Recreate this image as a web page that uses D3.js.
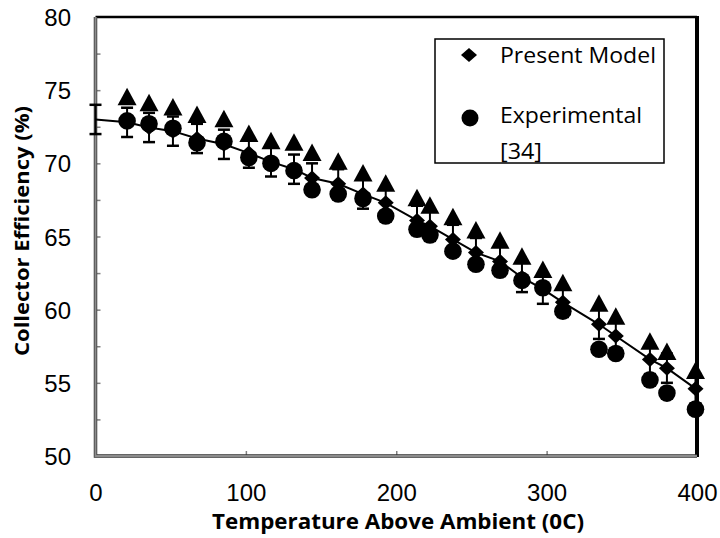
<!DOCTYPE html>
<html>
<head>
<meta charset="utf-8">
<script src="https://cdn.jsdelivr.net/npm/d3@7"></script>
<style>
  html, body { margin: 0; padding: 0; background: #fff; }
  svg { display: block; }
</style>
</head>
<body>
<svg id="chart" width="720" height="538"></svg>
<script>
// ---- data ----
const temps = [21, 35.6, 51.5, 67.5, 85.4, 102, 116.7, 132, 144, 161.4, 177.9, 193, 213.8, 222.4, 237.7, 253, 269, 283.6, 297.5, 310.8, 334.8, 346, 368.7, 380, 399];
const modelTemps = [0].concat(temps);
const modelEff = [73.0, 72.8, 72.45, 72.2, 71.7, 71.3, 70.7, 70.1, 69.6, 69.0, 68.6, 67.9, 67.3, 66.1, 65.7, 64.8, 63.9, 63.3, 62.2, 61.4, 60.5, 59.0, 58.2, 56.6, 56.0, 54.6];
const modelErr = 1.0;
const expEff = [72.9, 72.7, 72.4, 71.4, 71.5, 70.4, 70.0, 69.5, 68.2, 67.9, 67.6, 66.4, 65.5, 65.1, 64.0, 63.1, 62.7, 62.0, 61.5, 59.9, 57.3, 57.0, 55.2, 54.3, 53.2];
const upperEff = [74.5, 74.1, 73.8, 73.3, 73.0, 72.0, 71.5, 71.4, 70.7, 70.1, 69.3, 68.6, 67.6, 67.1, 66.3, 65.4, 64.7, 63.6, 62.7, 61.8, 60.4, 59.5, 57.8, 57.1, 55.8];
const xTicks = [0, 100, 200, 300, 400];
const yTicks = [50, 55, 60, 65, 70, 75, 80];
const yMinorTicks = [52.5, 55, 57.5, 60, 62.5, 65, 67.5, 70, 72.5, 75, 77.5];
const xMinorTicks = [100, 200, 300];
const legendLabels = ["Present Model", "Experimental", "[34]"];
const xTitle = "Temperature Above Ambient (0C)";
const yTitle = "Collector Efficiency (%)";

// ---- layout ----
const L = 95.5, R = 697, T = 17, B = 456;
const svg = d3.select("#chart");
const x = d3.scaleLinear().domain([0, 400]).range([L, R]);
const y = d3.scaleLinear().domain([50, 80]).range([B, T]);

// frame: top and right black
svg.append("line").attr("x1", L).attr("x2", R).attr("y1", T).attr("y2", T)
  .attr("stroke", "#000").attr("stroke-width", 2.5);
svg.append("line").attr("x1", R).attr("x2", R).attr("y1", T - 1).attr("y2", B + 1)
  .attr("stroke", "#000").attr("stroke-width", 4);

// minor ticks (inside)
svg.append("g").attr("transform", `translate(${L},0)`)
  .call(d3.axisLeft(y).tickValues(yMinorTicks).tickSize(-5).tickFormat(""))
  .call(g => g.select(".domain").remove())
  .call(g => g.selectAll("line").attr("stroke", "#808080").attr("stroke-width", 1.5));
svg.append("g").attr("transform", `translate(0,${B})`)
  .call(d3.axisBottom(x).tickValues(xMinorTicks).tickSize(-5).tickFormat(""))
  .call(g => g.select(".domain").remove())
  .call(g => g.selectAll("line").attr("stroke", "#808080").attr("stroke-width", 1.5));

// left & bottom axis lines (gray with dark edge)
svg.append("path").attr("d", `M${L},${T}V${B}H${R}`).attr("fill", "none")
  .attr("stroke", "#333").attr("stroke-width", 3.5);
svg.append("path").attr("d", `M${L},${T}V${B}H${R}`).attr("fill", "none")
  .attr("stroke", "#8c8c8c").attr("stroke-width", 2);

// tick labels
const yAx = svg.append("g").attr("transform", `translate(${L},0)`)
  .call(d3.axisLeft(y).tickValues(yTicks).tickSize(0).tickPadding(24.5).tickFormat(d3.format("d")));
yAx.select(".domain").remove();
yAx.selectAll("text").attr("font-family", "Liberation Sans, Arial, sans-serif")
  .attr("font-size", 24).attr("fill", "#000").attr("dy", "0.36em");

const xAx = svg.append("g").attr("transform", `translate(0,${B})`)
  .call(d3.axisBottom(x).tickValues(xTicks).tickSize(0).tickPadding(28).tickFormat(d3.format("d")));
xAx.select(".domain").remove();
xAx.selectAll("text").attr("font-family", "Liberation Sans, Arial, sans-serif")
  .attr("font-size", 24).attr("fill", "#000");

// axis titles
svg.append("text").attr("x", 398).attr("y", 529).attr("text-anchor", "middle")
  .attr("font-family", "Open Sans, sans-serif").attr("font-weight", "bold").attr("font-size", 21)
  .attr("textLength", 372).attr("lengthAdjust", "spacingAndGlyphs").text(xTitle);
svg.append("text").attr("transform", "translate(29,231) rotate(-90)").attr("text-anchor", "middle")
  .attr("font-family", "Open Sans, sans-serif").attr("font-weight", "bold").attr("font-size", 20)
  .attr("textLength", 250).attr("lengthAdjust", "spacingAndGlyphs").text(yTitle);

// model line
const lineGen = d3.line().x((d, i) => x(modelTemps[i])).y(d => y(d));
svg.append("path").datum(modelEff).attr("d", lineGen).attr("fill", "none")
  .attr("stroke", "#000").attr("stroke-width", 2);

// error bars on model
const eb = svg.append("g").attr("stroke", "#000");
modelEff.forEach((v, i) => {
  const cx = x(modelTemps[i]);
  eb.append("line").attr("x1", cx).attr("x2", cx).attr("y1", y(v - modelErr)).attr("y2", y(v + modelErr)).attr("stroke-width", 2);
  [v - modelErr, v + modelErr].forEach(e => {
    eb.append("line").attr("x1", cx - 6).attr("x2", cx + 6).attr("y1", y(e)).attr("y2", y(e)).attr("stroke-width", 2.5);
  });
});

// markers
const diamond = (cx, cy, w, h) => `M${cx},${cy - h}L${cx + w},${cy}L${cx},${cy + h}L${cx - w},${cy}Z`;
const tri = (cx, cy, w, h) => `M${cx},${cy - h * 0.55}L${cx + w},${cy + h * 0.45}L${cx - w},${cy + h * 0.45}Z`;

svg.append("g").selectAll("path").data(modelEff.slice(1)).join("path")
  .attr("d", (d, i) => diamond(x(temps[i]), y(d), 8, 7.5)).attr("fill", "#000");
svg.append("g").selectAll("circle").data(expEff).join("circle")
  .attr("cx", (d, i) => x(temps[i])).attr("cy", d => y(d)).attr("r", 8.8).attr("fill", "#000");
svg.append("g").selectAll("path").data(upperEff).join("path")
  .attr("d", (d, i) => tri(x(temps[i]), y(d), 9.5, 17.5)).attr("fill", "#000");

// legend
const lg = svg.append("g");
lg.append("rect").attr("x", 435).attr("y", 39).attr("width", 229).attr("height", 124)
  .attr("fill", "#fff").attr("stroke", "#000").attr("stroke-width", 1.5);
lg.append("path").attr("d", diamond(469, 55, 8, 7)).attr("fill", "#000");
lg.append("circle").attr("cx", 470).attr("cy", 118).attr("r", 8.5).attr("fill", "#000");
const lt = [[legendLabels[0], 63, 156], [legendLabels[1], 123, 142], [legendLabels[2], 159, 42]];
lt.forEach(([t, by, w]) => {
  lg.append("text").attr("x", 500).attr("y", by).attr("font-family", "Open Sans, sans-serif")
    .attr("font-size", 21).attr("textLength", w).attr("lengthAdjust", "spacingAndGlyphs").text(t);
});
</script>
</body>
</html>
